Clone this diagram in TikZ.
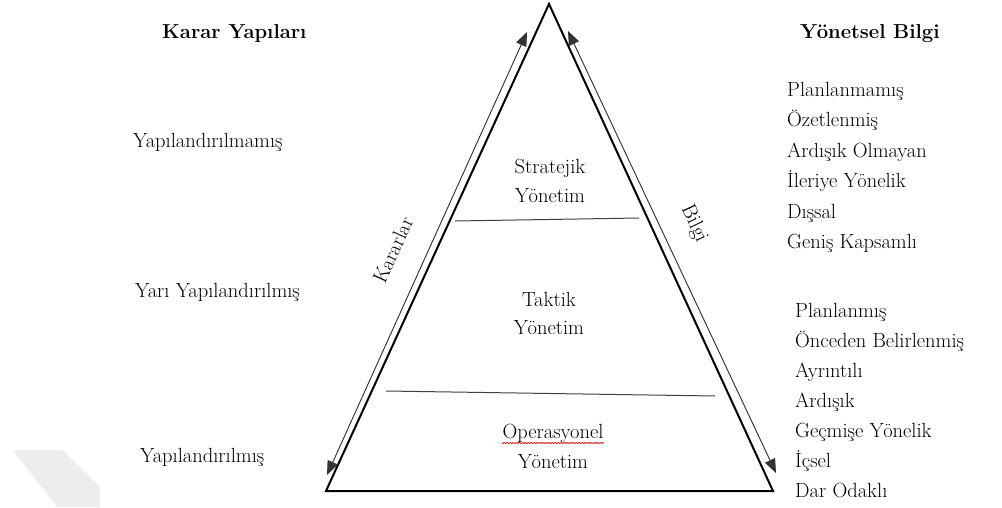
\documentclass[tikz,border=0pt]{standalone}
\usetikzlibrary{arrows.meta}
\tikzset{
  txt/.style={inner sep=0pt,font=\fontsize{20.5}{26}\selectfont},
  headtext/.style={inner sep=0pt,font=\fontsize{20.2}{26}\selectfont\bfseries},
  listitem/.style={txt,anchor=base west},
  levelname/.style={txt,anchor=base},
  pyramidline/.style={line width=2pt},
  dividerline/.style={line width=1pt,draw=black!75},
  flowarrow/.style={line width=0.9pt,draw=black!80,fill=black}
}
\begin{document}
\begin{tikzpicture}[x=1pt,y=-1pt]
\useasboundingbox (0,0) rectangle (1002,507);

% faint mark in the lower left corner
\fill[black!7] (13,450) -- (62,450) -- (100,487) -- (100,507) -- (57,507) -- cycle;

% pyramid outline
\coordinate (apex) at (549,4);
\coordinate (bl) at (326,491);
\coordinate (br) at (773,491);
\draw[pyramidline] (apex) -- (bl) -- (br) -- cycle;

% level dividers
\coordinate (d1a) at (455,221);
\coordinate (d1b) at (639,218);
\coordinate (d2a) at (386,391);
\coordinate (d2b) at (715,396);
\draw[dividerline] (d1a) -- (d1b);
\draw[dividerline] (d2a) -- (d2b);

% decision and information arrows along the sides
\coordinate (kTop) at (527,32);
\coordinate (kBot) at (327,475);
\coordinate (bTop) at (568,31);
\coordinate (bBot) at (776,473);
\draw[flowarrow,{Triangle[length=14pt,width=11pt]}-{Triangle[length=14pt,width=11pt]}] (kBot) -- (kTop);
\draw[flowarrow,{Triangle[length=14pt,width=11pt]}-{Triangle[length=14pt,width=11pt]}] (bTop) -- (bBot);

\node[txt,rotate=65.5] (kararlar) at (393,250) {Kararlar};
\node[txt,rotate=-64.8] (bilgi) at (694,224) {Bilgi};

% management levels
\node[levelname] (strat1) at (550,173) {Stratejik};
\node[levelname] (strat2) at (550,202) {Yönetim};
\node[levelname] (takt1) at (549,306) {Taktik};
\node[levelname] (takt2) at (549,334) {Yönetim};
\node[levelname] (oper1) at (553,438) {Operasyonel};
\node[levelname] (oper2) at (553,468) {Yönetim};
% red wavy underline below the first word
\draw[red,line width=0.6pt] plot[domain=0:102,samples=103,smooth] ({502+\x},{443+0.9*sin(\x*120)});

% decision structures
\node[headtext,anchor=base west] (kyHead) at (162,38) {Karar Yapıları};
\node[listitem] (ky1) at (133,147) {Yapılandırılmamış};
\node[listitem] (ky2) at (135,297) {Yarı Yapılandırılmış};
\node[listitem] (ky3) at (140,462) {Yapılandırılmış};

% managerial information
\node[headtext,anchor=base west] (ybHead) at (800,38) {Yönetsel Bilgi};
\node[listitem] (u1) at (787,96) {Planlanmamış};
\node[listitem] (u2) at (787,126) {Özetlenmiş};
\node[listitem] (u3) at (787,157) {Ardışık Olmayan};
\node[listitem] (u4) at (787,187) {İleriye Yönelik};
\node[listitem] (u5) at (787,218) {Dışsal};
\node[listitem] (u6) at (787,248) {Geniş Kapsamlı};

\node[listitem] (l1) at (795,317) {Planlanmış};
\node[listitem] (l2) at (795,347) {Önceden Belirlenmiş};
\node[listitem] (l3) at (795,377) {Ayrıntılı};
\node[listitem] (l4) at (795,407) {Ardışık};
\node[listitem] (l5) at (795,437) {Geçmişe Yönelik};
\node[listitem] (l6) at (795,467) {İçsel};
\node[listitem] (l7) at (795,497) {Dar Odaklı};
\end{tikzpicture}
\end{document}
